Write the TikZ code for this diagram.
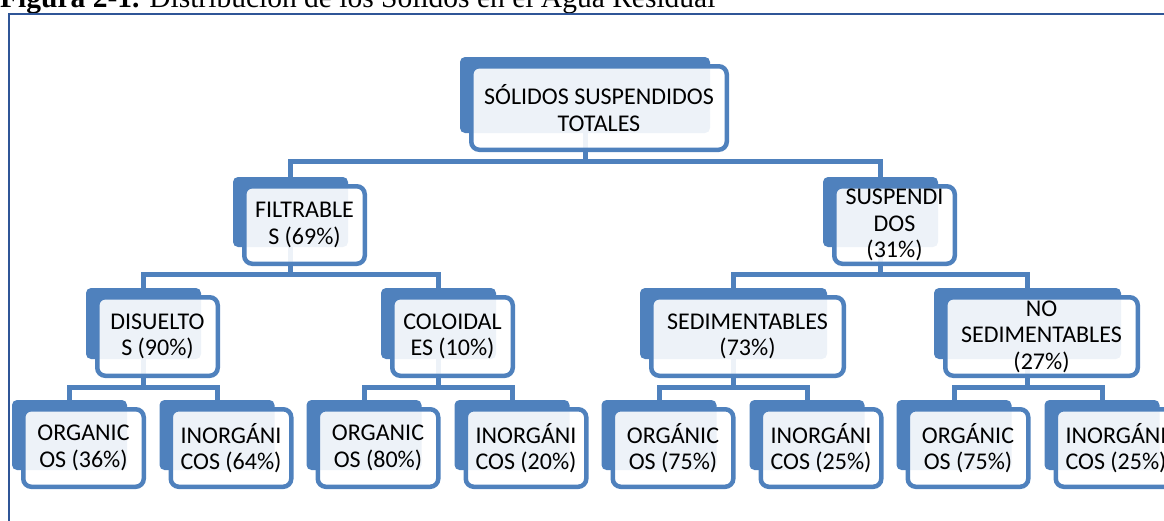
\documentclass[tikz,border=0pt]{standalone}
\usepackage{fontspec}
\setmainfont{Carlito}
\newfontfamily\titlefont{Liberation Serif}
\usetikzlibrary{backgrounds}
\definecolor{smblue}{HTML}{4F81BD}
\definecolor{frameblue}{HTML}{2F5597}
\tikzset{
  backbox/.style={draw=none, fill=smblue, rounded corners=5pt, inner sep=0pt},
  frontbox/.style={draw=smblue, line width=4.5pt, fill=white, fill opacity=0.9, rounded corners=8pt, inner sep=0pt},
  boxtext/.style={align=center, inner sep=0pt, font=\fontsize{24}{26.5}\selectfont, text=black},
  conn/.style={draw=smblue, line width=5pt},
  frameline/.style={draw=frameblue, line width=2pt},
}
% name, x0, y0, w, h, text
\newcommand\smbox[6]{%
  \node[backbox, minimum width={#4*1pt}, minimum height={#5*1pt}] (#1-b) at ({#2+#4/2},{#3+#5/2}) {};
  \node[frontbox, minimum width={(#4+5.5)*1pt}, minimum height={(#5+7.5)*1pt}] (#1) at ({#2+#4/2+14},{#3+#5/2+13}) {};
  \node[boxtext] (#1-t) at (#1.center) {#6};
}
\begin{document}
\begin{tikzpicture}[x=1pt, y=-1pt]
\useasboundingbox (0,0) rectangle (1164,520);
\clip (0,0) rectangle (1164,520);
% title and frame
\node[anchor=base west, inner sep=0pt, font=\titlefont\fontsize{29.5}{32}\selectfont] (title) at (0,7) {\textbf{Figura 2-1.} Distribución de los Sólidos en el Agua Residual};
\draw[frameline] (9,540) -- (9,14) -- (1180,14);
% boxes
\smbox{root}{460}{57}{250}{76}{SÓLIDOS SUSPENDIDOS\\TOTALES}
\smbox{filt}{233}{177}{115}{70}{FILTRABLE\\S (69\%)}
\smbox{susp}{823}{177}{115}{70}{SUSPENDI\\DOS\\(31\%)}
\smbox{dis}{86}{288}{115}{71}{DISUELTO\\S (90\%)}
\smbox{col}{381}{288}{115}{71}{COLOIDAL\\ES (10\%)}
\smbox{sed}{640}{288}{187}{71}{SEDIMENTABLES\\(73\%)}
\smbox{nosed}{934}{288}{187}{71}{NO\\SEDIMENTABLES\\(27\%)}
\smbox{orgA}{12}{400}{115}{70}{ORGANIC\\OS (36\%)}
\smbox{inoA}{159.5}{400}{115}{70}{INORGÁNI\\COS (64\%)}
\smbox{orgB}{306.5}{400}{115}{70}{ORGANIC\\OS (80\%)}
\smbox{inoB}{454.5}{400}{115}{70}{INORGÁNI\\COS (20\%)}
\smbox{orgC}{601.5}{400}{115}{70}{ORGÁNIC\\OS (75\%)}
\smbox{inoC}{749.5}{400}{115}{70}{INORGÁNI\\COS (25\%)}
\smbox{orgD}{896.5}{400}{115}{70}{ORGÁNIC\\OS (75\%)}
\smbox{inoD}{1044.5}{400}{115}{70}{INORGÁNI\\COS (25\%)}
% connectors
\begin{scope}[on background layer]
\draw[conn] (root-b.south) -- ++(0,28) -| (filt-b.north);
\draw[conn] (root-b.south) -- ++(0,28) -| (susp-b.north);
\draw[conn] (filt-b.south) -- ++(0,27.5) -| (dis-b.north);
\draw[conn] (filt-b.south) -- ++(0,27.5) -| (col-b.north);
\draw[conn] (susp-b.south) -- ++(0,27.5) -| (sed-b.north);
\draw[conn] (susp-b.south) -- ++(0,27.5) -| (nosed-b.north);
\draw[conn] (dis-b.south) -- ++(0,28) -| (orgA-b.north);
\draw[conn] (dis-b.south) -- ++(0,28) -| (inoA-b.north);
\draw[conn] (col-b.south) -- ++(0,28) -| (orgB-b.north);
\draw[conn] (col-b.south) -- ++(0,28) -| (inoB-b.north);
\draw[conn] (sed-b.south) -- ++(0,28) -| (orgC-b.north);
\draw[conn] (sed-b.south) -- ++(0,28) -| (inoC-b.north);
\draw[conn] (nosed-b.south) -- ++(0,28) -| (orgD-b.north);
\draw[conn] (nosed-b.south) -- ++(0,28) -| (inoD-b.north);
\end{scope}
\end{tikzpicture}
\end{document}
